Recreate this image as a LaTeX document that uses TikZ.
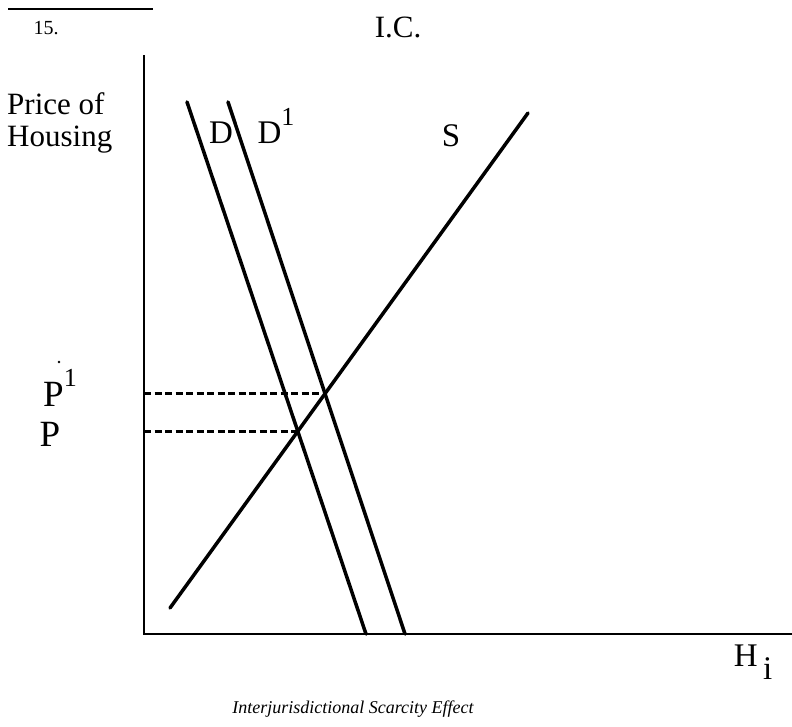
\documentclass[tikz,border=0pt]{standalone}
\usepackage{fontspec}
\setmainfont{Liberation Serif}
\usetikzlibrary{intersections}
\newcommand{\raiseone}[1]{\raisebox{0.55em}{\fontsize{26}{26}\selectfont #1}}

\begin{document}
\begin{tikzpicture}[x=1pt, y=-1pt,
  axis/.style={line width=2.8pt},
  curve/.style={line width=3.5pt, line cap=round},
  guide/.style={line width=2.5pt, dash pattern=on 7pt off 3.5pt},
  lbl/.style={inner sep=0pt, font=\fontsize{33}{35}\selectfont},
  axlbl/.style={inner sep=0pt, align=left, font=\fontsize{31}{35}\selectfont}
]
\useasboundingbox (0,0) rectangle (792,726);

% header
\coordinate (rule l) at (8,9);
\coordinate (rule r) at (153,9);
\draw[line width=2pt] (rule l) -- (rule r);
\node[inner sep=0pt, font=\fontsize{20}{22}\selectfont] (num) at (46,28) {15.};
\node[axlbl] (title) at (398,27) {I.C.};

% axes
\coordinate (origin) at (144,634);
\coordinate (ytop) at (144,55);
\coordinate (xend) at (792,634);
\draw[axis] (ytop) -- (origin) -- (xend);
\node[axlbl, anchor=west] (ylabel) at (7,123) {Price of\\[-3pt]Housing};
\node[lbl] (xlabel) at (753,662) {H\,\raisebox{-0.4em}{i}};

% demand and supply
\coordinate (d top) at (187,102);
\coordinate (d bot) at (366,634);
\coordinate (d1 top) at (228,102);
\coordinate (d1 bot) at (405,634);
\coordinate (s bot) at (170,608);
\coordinate (s top) at (528,113);
\draw[curve, name path=dem] (d top) -- (d bot);
\draw[curve, name path=dem1] (d1 top) -- (d1 bot);
\draw[curve, name path=sup] (s bot) -- (s top);
\node[lbl] (dlabel) at (221,133) {D};
\node[lbl] (d1label) at (276,126) {D\raiseone{1}};
\node[lbl] (slabel) at (451,136) {S};

% equilibria
\path[name intersections={of=dem and sup, by=eq}];
\path[name intersections={of=dem1 and sup, by=eq1}];
\coordinate (p on axis) at (origin |- eq);
\coordinate (p1 on axis) at (origin |- eq1);
\draw[guide] (p on axis) -- (eq);
\draw[guide] (p1 on axis) -- (eq1);
\node[lbl, font=\fontsize{37}{38}\selectfont] (plabel) at (50,434) {P};
\node[lbl, font=\fontsize{37}{38}\selectfont] (p1label) at (60,388) {P\raiseone{1}};
\fill (59,362) circle (1.3pt);

% caption
\node[inner sep=0pt, font=\fontsize{18}{20}\selectfont\itshape] (caption) at (353,709) {Interjurisdictional Scarcity Effect};

\end{tikzpicture}
\end{document}
